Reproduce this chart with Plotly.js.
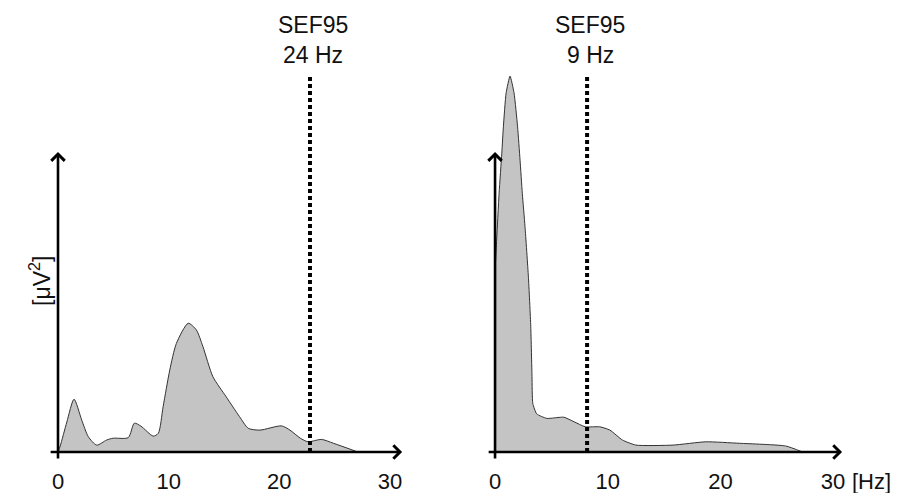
<!DOCTYPE html>
<html>
<head>
<meta charset="utf-8">
<script src="https://cdn.plot.ly/plotly-3.0.1.min.js"></script>
<style>html,body{margin:0;padding:0;background:#fff;}#chart{width:899px;height:493px;}</style>
</head>
<body>
<div id="chart"></div>
<script>
// Left spectrum (Hz, arbitrary power units)
const leftFreq  = [0, 0.2, 0.8, 1.45, 2.14, 2.74, 3.5, 4.4, 5.0, 6.35, 6.9, 7.5, 8.6, 9.06, 9.5, 10.1, 10.7, 11.77, 12.5, 13.1, 14.0, 15.2, 16.4, 17.2, 18.25, 20.2, 20.96, 21.9, 22.6, 23.8, 24.9, 27.1];
const leftPower = [0, 2, 10, 17.6, 10.7, 5.1, 2.3, 4, 4.6, 4.8, 9.6, 8.6, 5.3, 6.2, 15.1, 27.3, 36.2, 42.9, 40.7, 35.1, 25.1, 18.4, 11.8, 7.9, 7.3, 8.7, 7.3, 4.6, 3.4, 4.2, 2.9, 0];
// Right spectrum
const rightFreq  = [0, 0.36, 0.6, 0.74, 0.98, 1.33, 1.69, 2.0, 2.22, 2.42, 2.66, 2.96, 3.17, 3.28, 3.35, 3.7, 4.6, 6.1, 7.0, 8.0, 9.3, 10.2, 11.3, 12.5, 15.8, 18.7, 21.7, 25.8, 27.3];
const rightPower = [60, 86.2, 99.6, 108.4, 119.6, 125.3, 119.6, 108.4, 97.3, 86.2, 75.1, 58.4, 41.8, 25.1, 16.2, 12.7, 11.2, 11.6, 10.1, 8.4, 8.4, 7.3, 4, 2.3, 2.3, 3.4, 2.9, 2, 0];
// SEF95 markers (position as drawn, label as printed)
const sefPos    = [22.77, 8.17];
const sefLabels = ['24 Hz', '9 Hz'];
const sefTop    = 125.7;
const tickVals  = [0, 10, 20, 30];
const tickText  = ['0', '10', '20', '30'];
const yAxisTop  = 100;
const xAxisEnd  = [31.1, 30.8];

const FONT = 'Liberation Sans, Arial, sans-serif';
const fillCol = '#c4c4c4';

const traces = [
  {x: leftFreq, y: leftPower, xaxis: 'x', yaxis: 'y', type: 'scatter', mode: 'lines',
   fill: 'tozeroy', fillcolor: fillCol, line: {color: '#333', width: 1, shape: 'spline', smoothing: 0.7}},
  {x: rightFreq, y: rightPower, xaxis: 'x2', yaxis: 'y2', type: 'scatter', mode: 'lines',
   fill: 'tozeroy', fillcolor: fillCol, line: {color: '#333', width: 1, shape: 'spline', smoothing: 0.5}},
  {x: [sefPos[0], sefPos[0]], y: [0, sefTop], xaxis: 'x', yaxis: 'y', type: 'scatter', mode: 'lines',
   line: {color: '#000', width: 4, dash: '4px,3px'}},
  {x: [sefPos[1], sefPos[1]], y: [0, sefTop], xaxis: 'x2', yaxis: 'y2', type: 'scatter', mode: 'lines',
   line: {color: '#000', width: 4, dash: '4px,3px'}}
];

function arrow(xr, yr, x, y, ax, ay) {
  return {xref: xr, yref: yr, axref: xr, ayref: yr, x: x, y: y, ax: ax, ay: ay, text: '',
          showarrow: true, arrowhead: 4, arrowsize: 1, arrowwidth: 2.6, arrowcolor: '#000',
          standoff: 0, startstandoff: 0};
}
const tf = {family: FONT, size: 23, color: '#111'};
const tk = {family: FONT, size: 22, color: '#111'};
const annotations = [
  arrow('x', 'y', 0, yAxisTop, 0, -2.7),
  arrow('x', 'y', xAxisEnd[0], 0, -0.8, 0),
  arrow('x2', 'y2', 0, yAxisTop, 0, -2.7),
  arrow('x2', 'y2', xAxisEnd[1], 0, -0.7, 0),
  {xref: 'x', yref: 'y', x: sefPos[0], y: 142.3, text: 'SEF95', showarrow: false, xshift: 3, font: tf},
  {xref: 'x', yref: 'y', x: sefPos[0], y: 132.3, text: sefLabels[0], showarrow: false, xshift: 3, font: tf},
  {xref: 'x2', yref: 'y2', x: sefPos[1], y: 142.3, text: 'SEF95', showarrow: false, xshift: 3, font: tf},
  {xref: 'x2', yref: 'y2', x: sefPos[1], y: 132.3, text: sefLabels[1], showarrow: false, xshift: 3, font: tf},
  {xref: 'paper', yref: 'y', x: 23/899, y: 57, text: '[μV<sup>2</sup>]', textangle: -90, showarrow: false, font: tf},
  {xref: 'x2', yref: 'paper', x: 30, y: -0.0436, yanchor: 'middle', text: '[Hz]', xanchor: 'left', xshift: 17, showarrow: false, font: tk}
];

const xCommon = {range: [-2, 32], showgrid: false, zeroline: false, showline: false, ticks: '',
  tickvals: tickVals, ticktext: tickText, tickfont: tk, ticklabelstandoff: 5, fixedrange: true};
const yCommon = {range: [-3, 150], visible: false, showgrid: false, zeroline: false, fixedrange: true};

const layout = {
  width: 899, height: 493,
  margin: {l: 0, r: 0, t: 2, b: 32},
  paper_bgcolor: '#fff', plot_bgcolor: 'rgba(0,0,0,0)',
  showlegend: false,
  xaxis: Object.assign({}, xCommon, {domain: [0.0399, 0.4584], anchor: 'y'}),
  yaxis: Object.assign({}, yCommon, {anchor: 'x'}),
  xaxis2: Object.assign({}, xCommon, {domain: [0.5256, 0.9517], anchor: 'y2'}),
  yaxis2: Object.assign({}, yCommon, {anchor: 'x2'}),
  annotations: annotations
};

Plotly.newPlot('chart', traces, layout, {displayModeBar: false, staticPlot: true});
</script>
</body>
</html>
